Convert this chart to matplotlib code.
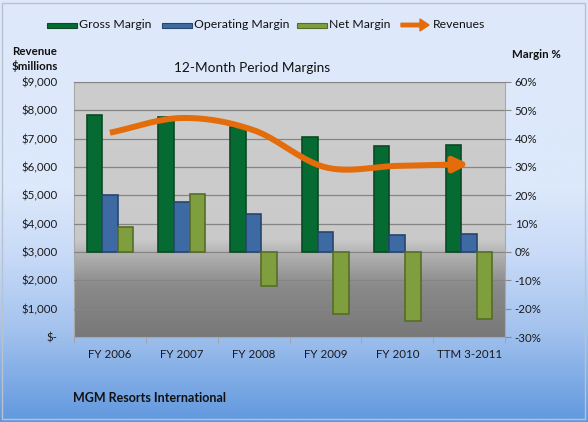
import matplotlib
matplotlib.use("Agg")
import matplotlib.pyplot as plt
import numpy as np
from matplotlib.colors import LinearSegmentedColormap
from matplotlib.patches import Rectangle, FancyArrow
from matplotlib.ticker import FuncFormatter, MultipleLocator

plt.rcParams['font.family'] = ['Lato', 'DejaVu Sans']

# data
categories = ["FY 2006", "FY 2007", "FY 2008", "FY 2009", "FY 2010", "TTM 3-2011"]
gross_margin = [48.5, 47.8, 44.2, 40.5, 37.4, 37.8]
operating_margin = [20.1, 17.8, 13.4, 6.9, 6.0, 6.2]
net_margin = [8.8, 20.6, -11.9, -21.9, -24.2, -23.8]
revenues = [7210, 7730, 7300, 5990, 6040, 6100]

W, H = 588, 422
fig = plt.figure(figsize=(W / 100, H / 100), dpi=100)

# figure background gradient (light blue top -> stronger blue bottom)
bg = fig.add_axes([0, 0, 1, 1], zorder=-10)
bg_cmap = LinearSegmentedColormap.from_list(
    "bg", [(0.0, "#dfe9fb"), (0.45, "#dce8fb"), (0.6, "#c9dbf8"),
           (0.78, "#a4c3ee"), (1.0, "#6198de")])
grad = np.linspace(0, 1, 256).reshape(-1, 1)
bg.imshow(grad, cmap=bg_cmap, aspect="auto", extent=[0, 1, 0, 1], origin="upper")
bg.add_patch(Rectangle((0.004, 0.007), 0.991, 0.986, fill=False,
                       edgecolor="#b9c3cf", linewidth=1.0, transform=bg.transAxes))
bg.set_xlim(0, 1)
bg.set_ylim(0, 1)
bg.axis("off")

# plot area in pixels: left 74, right 505, top 82, bottom 337
left, right, top, bottom = 74, 505, 82, 337
ax2 = fig.add_axes([left / W, 1 - bottom / H, (right - left) / W, (bottom - top) / H])
ax = ax2.twinx()
# revenue axis on the left, margins on the right
ax.yaxis.tick_left()
ax.yaxis.set_label_position("left")
ax2.yaxis.tick_right()
ax2.yaxis.set_label_position("right")

# plot area gray gradient
pa_cmap = LinearSegmentedColormap.from_list(
    "pa", [(0.0, "#cdcdcd"), (0.5, "#cbcbcb"), (0.62, "#c9c9c9"),
           (0.68, "#b0b0b0"), (0.8, "#8a8a8a"), (1.0, "#787878")])
ax2.imshow(grad, cmap=pa_cmap, aspect="auto", extent=[0, 1, 0, 1],
           origin="upper", transform=ax2.transAxes, zorder=0)

x = np.arange(len(categories))
bw = 0.217
series = [
    (gross_margin, "#056b33", "#0b4a24", -bw),
    (operating_margin, "#3d6aa2", "#26466f", 0.0),
    (net_margin, "#7f9f3f", "#566d27", bw),
]
for vals, fc, ec, off in series:
    ax2.bar(x + off, vals, width=bw, color=fc, edgecolor=ec, linewidth=1.2, zorder=3)

ax2.set_ylim(-30, 60)
ax2.set_xlim(-0.5, len(categories) - 0.5)
ax2.yaxis.set_major_locator(MultipleLocator(10))
ax2.yaxis.set_major_formatter(FuncFormatter(lambda v, p: f"{v:.0f}%"))
ax2.grid(axis="y", color="#858585", linewidth=0.9)
ax2.set_axisbelow(False)
for gl in ax2.get_ygridlines():
    gl.set_zorder(1)
ax2.set_xticks(x)
ax2.set_xticklabels(categories)
ax2.set_xticks(np.arange(len(categories) + 1) - 0.5, minor=True)
ax2.tick_params(axis="x", which="major", length=0, pad=9, labelsize=8.3, colors="#1a1a1a")
ax2.tick_params(axis="x", which="minor", length=4, color="#a0a0a0")
ax2.tick_params(axis="y", labelsize=8.3, length=4, pad=3, colors="#8a8a8a", labelcolor="#1a1a1a")

# revenue line, smoothed (Catmull-Rom through the data points)
def smooth(xs, ys, n=30):
    xs = np.asarray(xs, float)
    ys = np.asarray(ys, float)
    px = np.concatenate([[2 * xs[0] - xs[1]], xs, [2 * xs[-1] - xs[-2]]])
    py = np.concatenate([[2 * ys[0] - ys[1]], ys, [2 * ys[-1] - ys[-2]]])
    ox, oy = [], []
    t = np.linspace(0, 1, n, endpoint=False)
    for i in range(1, len(px) - 2):
        for arr, out in ((px, ox), (py, oy)):
            p0, p1, p2, p3 = arr[i - 1], arr[i], arr[i + 1], arr[i + 2]
            out.extend(0.5 * ((2 * p1) + (-p0 + p2) * t
                              + (2 * p0 - 5 * p1 + 4 * p2 - p3) * t ** 2
                              + (-p0 + 3 * p1 - 3 * p2 + p3) * t ** 3))
    ox.append(xs[-1])
    oy.append(ys[-1])
    return np.array(ox), np.array(oy)

sx, sy = smooth(x, revenues)
cut = len(sx) - 8
ax.plot(sx[:cut + 1], sy[:cut + 1], color="#e46c0a", linewidth=4.3,
        solid_capstyle="butt", zorder=5)
ax.annotate("", xy=(sx[-1], sy[-1]), xytext=(sx[cut], sy[cut]),
            arrowprops=dict(arrowstyle="-|>,head_length=0.85,head_width=0.42",
                            color="#e46c0a", lw=4.3, shrinkA=0, shrinkB=0),
            zorder=6)

ax.set_ylim(0, 9000)
ax.yaxis.set_major_locator(MultipleLocator(1000))
ax.yaxis.set_major_formatter(FuncFormatter(lambda v, p: "$-" if v == 0 else f"${v:,.0f}"))
ax.tick_params(axis="y", labelsize=8.3, length=0, pad=12, labelcolor="#1a1a1a")

ax.set_zorder(ax2.get_zorder() + 1)
ax.patch.set_visible(False)
for s in ax.spines.values():
    s.set_visible(False)
for side in ("bottom", "right", "left"):
    ax2.spines[side].set_color("#a8a8a8")
ax2.spines["top"].set_color("#8f8f8f")

# texts
fig.text(252 / W, 1 - 68 / H, "12-Month Period Margins", ha="center", va="center",
         fontsize=9.8, color="#111111")
fig.text(12 / W, 1 - 59 / H, "Revenue\n$millions", ha="left", va="center",
         fontsize=8.3, fontweight="bold", linespacing=1.35, color="#111111")
fig.text(512 / W, 1 - 55 / H, "Margin %", ha="left", va="center",
         fontsize=8.3, fontweight="bold", color="#111111")
fig.text(73 / W, 1 - 398 / H, "MGM Resorts International", ha="left", va="center",
         fontsize=9, fontweight="bold", color="#111111")

# legend, drawn by hand
ly = 1 - 25 / H
legend_items = [(47, "#056b33", "#0b4a24", "Gross Margin"),
                (162, "#3d6aa2", "#26466f", "Operating Margin"),
                (297, "#7f9f3f", "#566d27", "Net Margin")]
for lx, fc, ec, label in legend_items:
    fig.add_artist(Rectangle((lx / W, ly - 2.5 / H), 30 / W, 5 / H, facecolor=fc,
                             edgecolor=ec, linewidth=0.8, transform=fig.transFigure))
    fig.text((lx + 32) / W, ly, label, ha="left", va="center", fontsize=8.8, color="#111111")
fig.add_artist(FancyArrow(401 / W, ly, 19 / W, 0, width=3.5 / H, head_width=12 / H,
                          head_length=9 / W, length_includes_head=False,
                          color="#e46c0a", transform=fig.transFigure))
fig.text(433 / W, ly, "Revenues", ha="left", va="center", fontsize=8.8, color="#111111")

fig.savefig("out.png", dpi=100)
